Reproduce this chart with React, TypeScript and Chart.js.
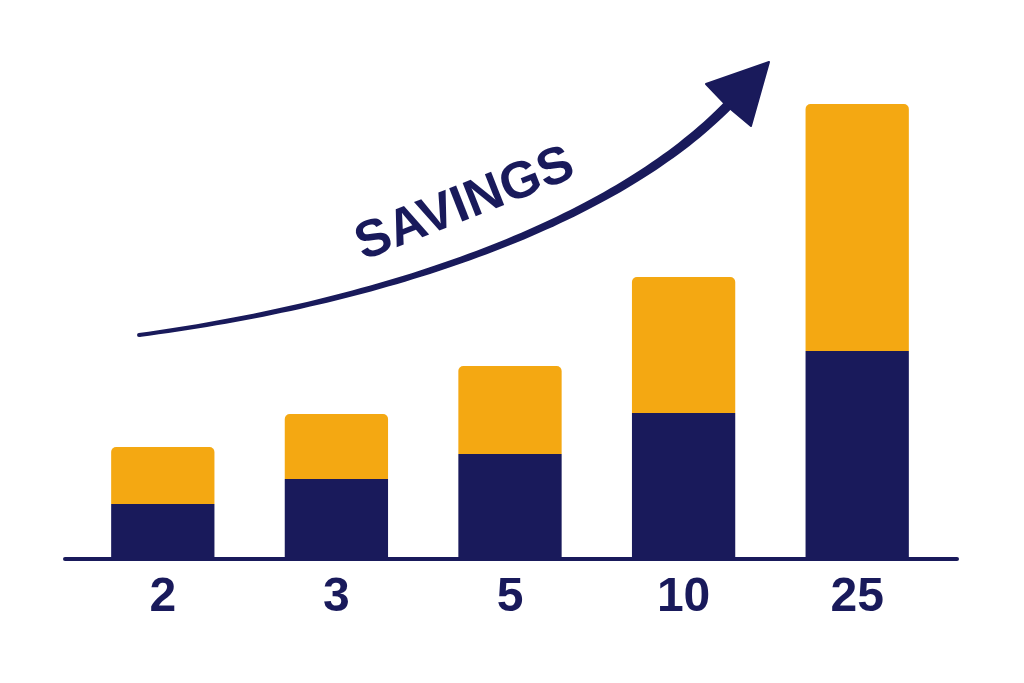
import React, { useEffect, useRef } from "react";
import { Chart, registerables } from "chart.js";

Chart.register(...registerables);

// ---- data ----
const categories = ["2", "3", "5", "10", "25"];
const baseValues = [54, 79, 104, 145, 207]; // navy (bottom)
const topValues = [57, 65, 88, 136, 247]; // orange (top)
const annotationText = "SAVINGS";

// arrow annotation in data space: [category index, value]
const arrowCurve: [number, number][] = [
  [-0.137, 223],
  [1.366, 258],
  [2.651, 341],
  [3.285, 458],
];
const arrowTip: [number, number] = [3.492, 496];
const arrowBarbLeft: [number, number] = [3.129, 474];
const arrowBarbRight: [number, number] = [3.388, 432];
const labelAnchor: [number, number] = [1.741, 353];

const NAVY = "#191a5b";
const ORANGE = "#f4a812";
const FONT = "'Liberation Sans', Arial, sans-serif";

const decorPlugin = {
  id: "decor",
  afterDatasetsDraw(chart: any) {
    const { ctx, scales } = chart;
    const xs = scales.x;
    const ys = scales.y;
    const px = (p: [number, number]) => ({ x: xs.getPixelForValue(p[0]), y: ys.getPixelForValue(p[1]) });
    const area = chart.chartArea;

    // baseline
    ctx.save();
    ctx.strokeStyle = NAVY;
    ctx.lineWidth = 4;
    ctx.lineCap = "round";
    ctx.beginPath();
    ctx.moveTo(area.left - 11, area.bottom + 1);
    ctx.lineTo(area.right + 13, area.bottom + 1);
    ctx.stroke();

    // tapered curved arrow shaft
    const [p0, p1, p2, p3] = arrowCurve.map(px);
    const N = 80;
    const left: { x: number; y: number }[] = [];
    const right: { x: number; y: number }[] = [];
    for (let i = 0; i <= N; i++) {
      const t = i / N;
      const mt = 1 - t;
      const x = mt * mt * mt * p0.x + 3 * mt * mt * t * p1.x + 3 * mt * t * t * p2.x + t * t * t * p3.x;
      const y = mt * mt * mt * p0.y + 3 * mt * mt * t * p1.y + 3 * mt * t * t * p2.y + t * t * t * p3.y;
      const dx = 3 * mt * mt * (p1.x - p0.x) + 6 * mt * t * (p2.x - p1.x) + 3 * t * t * (p3.x - p2.x);
      const dy = 3 * mt * mt * (p1.y - p0.y) + 6 * mt * t * (p2.y - p1.y) + 3 * t * t * (p3.y - p2.y);
      const len = Math.hypot(dx, dy) || 1;
      const nx = -dy / len;
      const ny = dx / len;
      const w = (4 + 6 * t) / 2;
      left.push({ x: x + nx * w, y: y + ny * w });
      right.push({ x: x - nx * w, y: y - ny * w });
    }
    ctx.fillStyle = NAVY;
    ctx.beginPath();
    ctx.moveTo(left[0].x, left[0].y);
    for (const p of left) ctx.lineTo(p.x, p.y);
    for (let i = right.length - 1; i >= 0; i--) ctx.lineTo(right[i].x, right[i].y);
    ctx.closePath();
    ctx.fill();
    ctx.beginPath();
    ctx.arc(p0.x, p0.y, 2, 0, Math.PI * 2);
    ctx.fill();

    // arrow head
    const tip = px(arrowTip);
    const bl = px(arrowBarbLeft);
    const br = px(arrowBarbRight);
    ctx.beginPath();
    ctx.moveTo(tip.x, tip.y);
    ctx.lineTo(bl.x, bl.y);
    ctx.lineTo(p3.x - 6, p3.y + 6);
    ctx.lineTo(br.x, br.y);
    ctx.closePath();
    ctx.lineJoin = "round";
    ctx.lineWidth = 2;
    ctx.strokeStyle = NAVY;
    ctx.fill();
    ctx.stroke();

    // label
    const c = px(labelAnchor);
    ctx.translate(c.x, c.y);
    ctx.rotate((-21.5 * Math.PI) / 180);
    ctx.font = `bold 52px ${FONT}`;
    ctx.textAlign = "center";
    ctx.textBaseline = "middle";
    ctx.fillStyle = NAVY;
    ctx.fillText(annotationText, 0, 0);
    ctx.restore();
  },
};

export default function App() {
  const ref = useRef<HTMLCanvasElement | null>(null);
  useEffect(() => {
    if (!ref.current) return;
    const chart = new Chart(ref.current, {
      type: "bar",
      data: {
        labels: categories,
        datasets: [
          {
            data: baseValues,
            backgroundColor: NAVY,
            borderWidth: 0,
            borderRadius: 0,
            barPercentage: 0.595,
            categoryPercentage: 1,
          },
          {
            data: topValues,
            backgroundColor: ORANGE,
            borderWidth: 0,
            borderRadius: 5,
            barPercentage: 0.595,
            categoryPercentage: 1,
          },
        ],
      },
      options: {
        animation: false,
        responsive: true,
        maintainAspectRatio: false,
        layout: { padding: { left: 76, right: 80, top: 58, bottom: 0 } },
        plugins: { legend: { display: false }, tooltip: { enabled: false } },
        scales: {
          x: {
            stacked: true,
            grid: { display: false, drawTicks: false },
            border: { display: false },
            ticks: {
              padding: 11,
              color: NAVY,
              font: { family: FONT, size: 48, weight: "bold" },
            },
            afterFit: (scale: any) => {
              scale.height = 125;
            },
          },
          y: {
            stacked: true,
            display: false,
            min: 0,
            max: 500,
          },
        },
      },
      plugins: [decorPlugin],
    });
    return () => chart.destroy();
  }, []);
  return (
    <div style={{ position: "fixed", inset: 0, background: "#ffffff" }}>
      <canvas ref={ref} />
    </div>
  );
}
